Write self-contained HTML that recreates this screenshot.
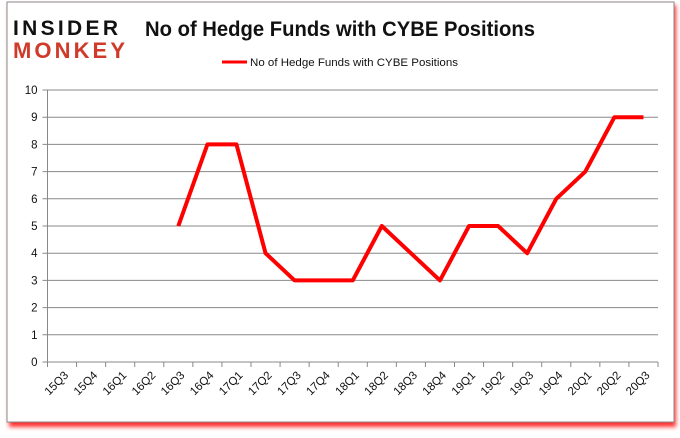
<!DOCTYPE html>
<html><head><meta charset="utf-8"><style>
body{margin:0;width:680px;height:433px;background:#fff;overflow:hidden;font-family:"Liberation Sans",sans-serif}
</style></head><body>
<svg width="680" height="433" xmlns="http://www.w3.org/2000/svg">
<defs><filter id="sh" x="-5%" y="-5%" width="110%" height="110%"><feGaussianBlur stdDeviation="2"/></filter></defs>
<rect x="9" y="5" width="667" height="422" fill="#f33" filter="url(#sh)"/>
<rect x="7" y="2" width="667" height="420" fill="#fff" stroke="#888"/>
<g font-family="Liberation Sans,sans-serif" font-weight="bold">
<text x="13" y="35" font-size="21" fill="#111" textLength="105">INSIDER</text>
<text x="13" y="58" font-size="22" fill="#d03a2a" textLength="112">MONKEY</text>
</g>
<text x="145" y="36" font-size="21" font-weight="bold" fill="#111" textLength="390" lengthAdjust="spacingAndGlyphs">No of Hedge Funds with CYBE Positions</text>
<line x1="222" y1="62" x2="247" y2="62" stroke="red" stroke-width="3"/>
<text x="250" y="66" font-size="11" fill="#111" textLength="208" lengthAdjust="spacingAndGlyphs">No of Hedge Funds with CYBE Positions</text>
<g id="plot"></g>
</svg>
<script>
const categories=["15Q3","15Q4","16Q1","16Q2","16Q3","16Q4","17Q1","17Q2","17Q3","17Q4","18Q1","18Q2","18Q3","18Q4","19Q1","19Q2","19Q3","19Q4","20Q1","20Q2","20Q3"];
const values=[null,null,null,null,5,8,8,4,3,3,3,5,4,3,5,5,4,6,7,9,9];
const yTicks=[0,1,2,3,4,5,6,7,8,9,10];
const NS="http://www.w3.org/2000/svg";
const g=document.getElementById('plot');
const L=47.5,R=658,T=90,B=362;
const step=(R-L)/categories.length;
const x=i=>L+(i+0.5)*step;
const y=v=>B-(v/10)*(B-T);
function mk(t,a){const e=document.createElementNS(NS,t);for(const k in a)e.setAttribute(k,a[k]);g.appendChild(e);return e;}
yTicks.forEach(v=>{
 const l=mk('line',{x1:L-5,x2:R,y1:y(v),y2:y(v),stroke:'#888','stroke-width':1});
 
 
 const t=mk('text',{x:L-10,y:y(v)+4,'text-anchor':'end','font-size':11.5,fill:'#111'});
 t.textContent=v;
 
 
});
const ax=mk('line',{x1:L,x2:L,y1:T,y2:B,stroke:'#888'});


for(let i=0;i<=categories.length;i++){
 const tk=mk('line',{x1:L+i*step,x2:L+i*step,y1:B,y2:B+5,stroke:'#888'});
 
 
}
categories.forEach((c,i)=>{
 const t=mk('text',{x:x(i)+7,y:B+14,'text-anchor':'end','font-size':11.5,fill:'#111',transform:`rotate(-45 ${x(i)+7} ${B+14})`});
 t.textContent=c;
 
 
});
let pts=[];values.forEach((v,i)=>{if(v!==null)pts.push(x(i)+','+y(v));});
const p=mk('polyline',{points:pts.join(' '),fill:'none',stroke:'red','stroke-width':4,'stroke-linejoin':'round'});


</script>
</body></html>
